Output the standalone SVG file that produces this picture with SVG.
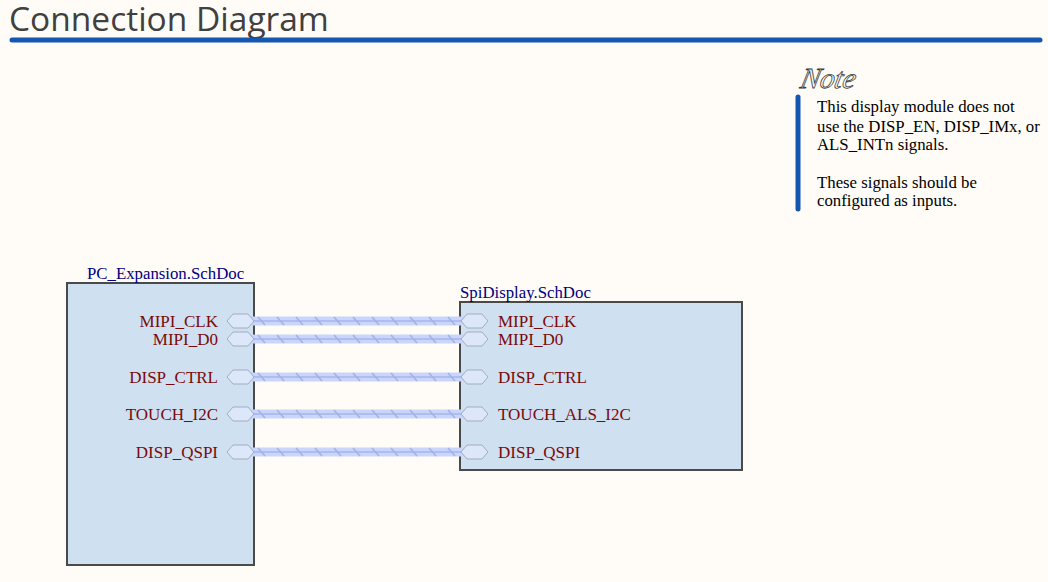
<svg xmlns="http://www.w3.org/2000/svg" width="1048" height="582" viewBox="0 0 1048 582">
<defs>
<style>
.title{font-family:"Open Sans","Noto Sans",sans-serif;font-size:33.5px;fill:#404040}
.note{font-family:"Liberation Serif",serif;font-size:16.8px;fill:#000}
.sheet{fill:#cfe0f0;stroke:#4a4a4a;stroke-width:2}
.sname{font-family:"Liberation Serif",serif;font-size:16.8px;fill:#000080}
.plabel{font-family:"Liberation Serif",serif;font-size:17px;fill:#7a0a0a}
.port{fill:#dde7fa;stroke:#a3acc4;stroke-width:1}
.bus{stroke:#c9d5fb;stroke-width:9;fill:none}
.buscore{stroke:#aebcf0;stroke-width:2;fill:none}
</style>
<g id="busproto">
<line class="bus" x1="250" y1="0" x2="466" y2="0"/>
<line class="buscore" x1="250" y1="0" x2="466" y2="0"/>
<path d="M258,-4l7,8M277,-4l7,8M296,-4l7,8M315,-4l7,8M334,-4l7,8M353,-4l7,8M372,-4l7,8M391,-4l7,8M410,-4l7,8M429,-4l7,8M448,-4l7,8" stroke="#a2b2e8" stroke-width="1.5" fill="none"/>
</g>
<polygon id="hex" points="-13.5,0 -7.5,-7 7.5,-7 13.5,0 7.5,7 -7.5,7"/>
</defs>
<rect width="1048" height="582" fill="#fffcf7"/>
<text class="title" x="9" y="31">Connection Diagram</text>
<line x1="12" y1="40" x2="1040" y2="40" stroke="#1457b0" stroke-width="5" stroke-linecap="round"/>

<g id="note">
<text x="800" y="88" font-family="Liberation Serif,serif" font-style="italic" font-size="29" fill="#fffcf7" stroke="#3a3a3a" stroke-width="0.8" transform="translate(18,0) skewX(-12)">Note</text>
<line x1="798" y1="97" x2="798" y2="209" stroke="#1457b0" stroke-width="5" stroke-linecap="round"/>
<text class="note" x="817" y="112">This display module does not</text>
<text class="note" x="817" y="132">use the DISP_EN, DISP_IMx, or</text>
<text class="note" x="817" y="150">ALS_INTn signals.</text>
<text class="note" x="817" y="188">These signals should be</text>
<text class="note" x="817" y="206">configured as inputs.</text>
</g>

<g id="PC_Expansion">
<rect class="sheet" x="67" y="283" width="187" height="282"/>
<text class="sname" x="87" y="279">PC_Expansion.SchDoc</text>
<text class="plabel" x="218" y="327" text-anchor="end">MIPI_CLK</text>
<text class="plabel" x="218" y="345" text-anchor="end">MIPI_D0</text>
<text class="plabel" x="218" y="383" text-anchor="end">DISP_CTRL</text>
<text class="plabel" x="218" y="420" text-anchor="end">TOUCH_I2C</text>
<text class="plabel" x="218" y="458" text-anchor="end">DISP_QSPI</text>
</g>

<g id="SpiDisplay">
<rect class="sheet" x="460" y="302" width="282" height="168"/>
<text class="sname" x="460" y="298">SpiDisplay.SchDoc</text>
<text class="plabel" x="498" y="327">MIPI_CLK</text>
<text class="plabel" x="498" y="345">MIPI_D0</text>
<text class="plabel" x="498" y="383">DISP_CTRL</text>
<text class="plabel" x="498" y="420">TOUCH_ALS_I2C</text>
<text class="plabel" x="498" y="458">DISP_QSPI</text>
</g>

<g id="connectors">
<use href="#busproto" y="321"/>
<use href="#busproto" y="339"/>
<use href="#busproto" y="377"/>
<use href="#busproto" y="414"/>
<use href="#busproto" y="452"/>
</g>

<g id="ports">
<use href="#hex" class="port" x="240.5" y="321"/>
<use href="#hex" class="port" x="240.5" y="339"/>
<use href="#hex" class="port" x="240.5" y="377"/>
<use href="#hex" class="port" x="240.5" y="414"/>
<use href="#hex" class="port" x="240.5" y="452"/>
<use href="#hex" class="port" x="474.5" y="321"/>
<use href="#hex" class="port" x="474.5" y="339"/>
<use href="#hex" class="port" x="474.5" y="377"/>
<use href="#hex" class="port" x="474.5" y="414"/>
<use href="#hex" class="port" x="474.5" y="452"/>
</g>
</svg>
